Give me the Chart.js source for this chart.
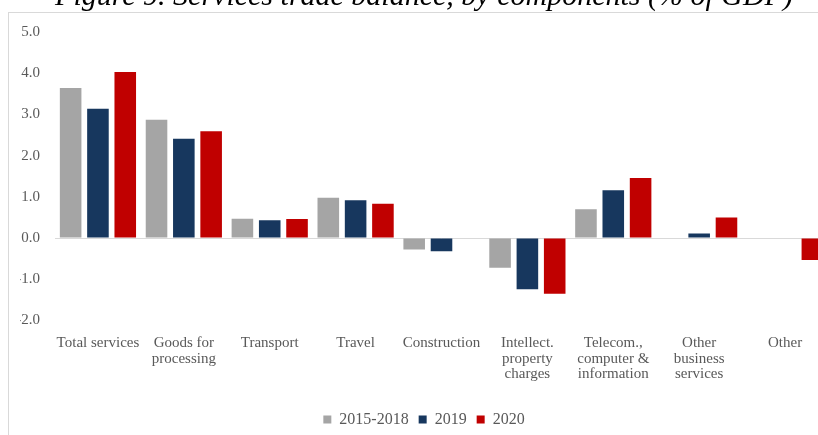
<!DOCTYPE html>
<html>
<head>
<meta charset="utf-8">
<script src="https://cdn.jsdelivr.net/npm/chart.js@4"></script>
<style>
  html, body { margin:0; padding:0; width:818px; height:435px; overflow:hidden; background:#fff; }
  #frame { position:absolute; left:8px; top:12px; width:900px; height:500px; border-left:1px solid #d9d9d9; border-top:1px solid #d9d9d9; }
  #title { position:absolute; left:0; width:848px; top:-20.5px; text-align:center; font:italic 30px/30px 'Liberation Serif', serif; color:#000; white-space:nowrap; }
  #wrap { position:absolute; left:0; top:0; width:830px; height:440px; }
</style>
</head>
<body>
<div id="frame"></div>
<div id="wrap"><canvas id="grafica"></canvas></div>
<div id="title">Figure 9. Services trade balance, by components (% of GDP)</div>
<script>
const categorias = [
  "Total services",
  ["Goods for", "processing"],
  "Transport",
  "Travel",
  "Construction",
  ["Intellect.", "property", "charges"],
  ["Telecom.,", "computer &", "information"],
  ["Other", "business", "services"],
  "Other"
];
const serie1518 = [3.64, 2.87, 0.47, 0.98, -0.28, -0.72, 0.70, 0, 0];
const serie2019 = [3.14, 2.41, 0.43, 0.92, -0.32, -1.24, 1.16, 0.11, 0];
const serie2020 = [4.03, 2.59, 0.46, 0.83, 0, -1.35, 1.46, 0.50, -0.53];
const etiquetasSerie = ["2015-2018", "2019", "2020"];
const colores = ["#a5a5a5", "#17375e", "#c00000"];

const fuente = "'Liberation Serif', 'Times New Roman', serif";

const ctx = document.getElementById('grafica').getContext('2d');
new Chart(ctx, {
  type: "bar",
  data: {
    labels: categorias,
    datasets: [serie1518, serie2019, serie2020].map((d, i) => ({
      label: etiquetasSerie[i],
      data: d,
      backgroundColor: colores[i],
      categoryPercentage: 0.954,
      barPercentage: 0.79
    }))
  },
  options: {
    responsive: true,
    maintainAspectRatio: false,
    animation: false,
    layout: { padding: { top: 32, left: 20, right: 2, bottom: 2.5 } },
    plugins: {
      tooltip: { enabled: false },
      legend: {
        position: 'bottom',
        labels: {
          boxWidth: 8, boxHeight: 8, padding: 10,
          color: '#595959',
          font: { family: fuente, size: 16 }
        }
      }
    },
    scales: {
      x: {
        grid: { display: false },
        border: { display: false },
        ticks: {
          color: '#595959', padding: 7, maxRotation: 0, autoSkip: false,
          font: { family: fuente, size: 15, lineHeight: 1.03 }
        },
        afterFit: s => { s.height = 81; }
      },
      y: {
        min: -2, max: 5,
        border: { display: false },
        grid: {
          drawTicks: false,
          color: c => c.tick && c.tick.value === 0 ? '#d9d9d9' : 'rgba(0,0,0,0)'
        },
        ticks: {
          stepSize: 1, padding: 15, color: '#595959',
          font: { family: fuente, size: 15 },
          callback: v => v.toFixed(1)
        },
        afterFit: s => { s.width = 35; }
      }
    }
  }
});
</script>
</body>
</html>
